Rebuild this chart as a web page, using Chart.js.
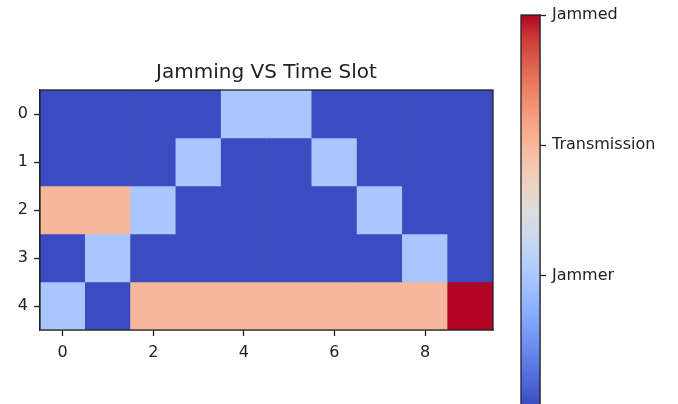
<!DOCTYPE html>
<html><head><meta charset="utf-8">
<script src="https://cdn.jsdelivr.net/npm/chart.js@4"></script>
<style>
html,body{margin:0;padding:0;background:#fff;overflow:hidden}
#wrap{position:relative;width:678px;height:404px;background:#fff;overflow:hidden}
#main{position:absolute;left:0;top:0}
#cbar{position:absolute;left:500px;top:0}
</style></head><body>
<div id="wrap"><canvas id="main" width="678" height="404"></canvas><canvas id="cbar" width="178" height="406"></canvas></div>
<script>
// ---- data ----
const timeSlots = [0,1,2,3,4,5,6,7,8,9];
const channels = [0,1,2,3,4];
const row0 = [0,0,0,0,1,1,0,0,0,0];
const row1 = [0,0,0,1,0,0,1,0,0,0];
const row2 = [2,2,1,0,0,0,0,1,0,0];
const row3 = [0,1,0,0,0,0,0,0,1,0];
const row4 = [1,0,2,2,2,2,2,2,2,3];
const xTicks = [0,2,4,6,8];
const yTicks = [0,1,2,3,4];
const levelValues = [1,2,3];
const levelLabels = ['Jammer','Transmission','Jammed'];
const valueMin = 0, valueMax = 3;
const chartTitle = 'Jamming VS Time Slot';

// ---- coolwarm colormap ----
const coolwarm = [[59,76,192],[77,104,215],[98,130,234],[119,154,247],[141,176,254],[163,194,255],[184,208,249],[204,217,238],[221,221,221],[236,211,197],[245,196,173],[247,177,148],[244,154,123],[236,127,99],[222,96,77],[203,62,56],[180,4,38]];
function cmap(v){
  let t=(v-valueMin)/(valueMax-valueMin); t=Math.max(0,Math.min(1,t));
  const f=t*(coolwarm.length-1); const i=Math.min(Math.floor(f),coolwarm.length-2); const u=f-i;
  const a=coolwarm[i], b=coolwarm[i+1];
  return 'rgb('+a.map((c,k)=>Math.round(c+(b[k]-c)*u)).join(',')+')';
}

const FONT='DejaVu Sans';
const TXT='#222';
const frame={id:'frame',afterDatasetsDraw(chart){const a=chart.chartArea,c=chart.ctx;c.save();c.strokeStyle='#222';c.lineWidth=1.3;c.strokeRect(a.left,a.top,a.right-a.left,a.bottom-a.top);c.restore();}};
const noPad=s=>{s.paddingTop=0;s.paddingBottom=0;s.paddingLeft=0;s.paddingRight=0;};

const rows=[row0,row1,row2,row3,row4];
const datasets=rows.map((vals,r)=>({
  data: vals.map((v,c)=>({x:timeSlots[c], y:[channels[r]-0.5, channels[r]+0.5]})),
  backgroundColor: vals.map(v=>cmap(v)),
  borderWidth:0, grouped:false, barPercentage:1, categoryPercentage:1
}));

new Chart(document.getElementById('main'),{
  type:'bar',
  data:{datasets},
  plugins:[frame],
  options:{
    responsive:false, animation:false, devicePixelRatio:1,
    layout:{padding:{left:0,top:61,right:185,bottom:0}},
    plugins:{legend:{display:false},tooltip:{enabled:false},
      title:{display:true,text:chartTitle,fullSize:false,color:TXT,font:{family:FONT,size:20,weight:'normal',lineHeight:1.2},padding:{top:0,bottom:5}}},
    scales:{
      x:{type:'linear',min:-0.5,max:9.5,offset:false,
        afterBuildTicks:s=>{s.ticks=xTicks.map(v=>({value:v}));},
        afterFit:s=>{s.height=74;noPad(s);},
        ticks:{color:TXT,font:{family:FONT,size:16},padding:7,maxRotation:0},
        grid:{offset:false,drawOnChartArea:false,drawTicks:true,tickLength:6,tickColor:'#222',tickWidth:1.3,color:'#222'},
        border:{display:true,color:'#222',width:1.3}},
      y:{type:'linear',min:-0.5,max:4.5,reverse:true,
        afterBuildTicks:s=>{s.ticks=yTicks.map(v=>({value:v}));},
        afterFit:s=>{s.width=40;noPad(s);},
        ticks:{color:TXT,font:{family:FONT,size:16},padding:6},
        grid:{offset:false,drawOnChartArea:false,drawTicks:true,tickLength:6,tickColor:'#222',tickWidth:1.3,color:'#222'},
        border:{display:true,color:'#222',width:1.3}}
    }
  }
});

new Chart(document.getElementById('cbar'),{
  type:'bar',
  data:{labels:['cb'],datasets:[{data:[[valueMin,valueMax]],borderWidth:0,barPercentage:1,categoryPercentage:1,
    backgroundColor:(ctx)=>{const a=ctx.chart.chartArea; if(!a) return 'rgb(59,76,192)';
      const g=ctx.chart.ctx.createLinearGradient(0,a.bottom,0,a.top);
      coolwarm.forEach((c,i)=>g.addColorStop(i/(coolwarm.length-1),'rgb('+c.join(',')+')'));
      return g;}}]},
  plugins:[frame],
  options:{
    responsive:false, animation:false, devicePixelRatio:1,
    layout:{padding:{left:21,top:15,right:0,bottom:0}},
    plugins:{legend:{display:false},tooltip:{enabled:false}},
    scales:{
      x:{display:false},
      y:{position:'right',min:valueMin,max:valueMax,
        afterBuildTicks:s=>{s.ticks=levelValues.map(v=>({value:v}));},
        afterFit:s=>{s.width=138;noPad(s);},
        ticks:{color:TXT,font:{family:FONT,size:16},padding:6,
          callback:(v)=>{const i=levelValues.indexOf(v);return i>=0?levelLabels[i]:'';}},
        grid:{drawOnChartArea:false,drawTicks:true,tickLength:6,tickColor:'#222',tickWidth:1.3,color:'#222'},
        border:{display:true,color:'#222',width:1.3}}
    }
  }
});
</script>
</body></html>
